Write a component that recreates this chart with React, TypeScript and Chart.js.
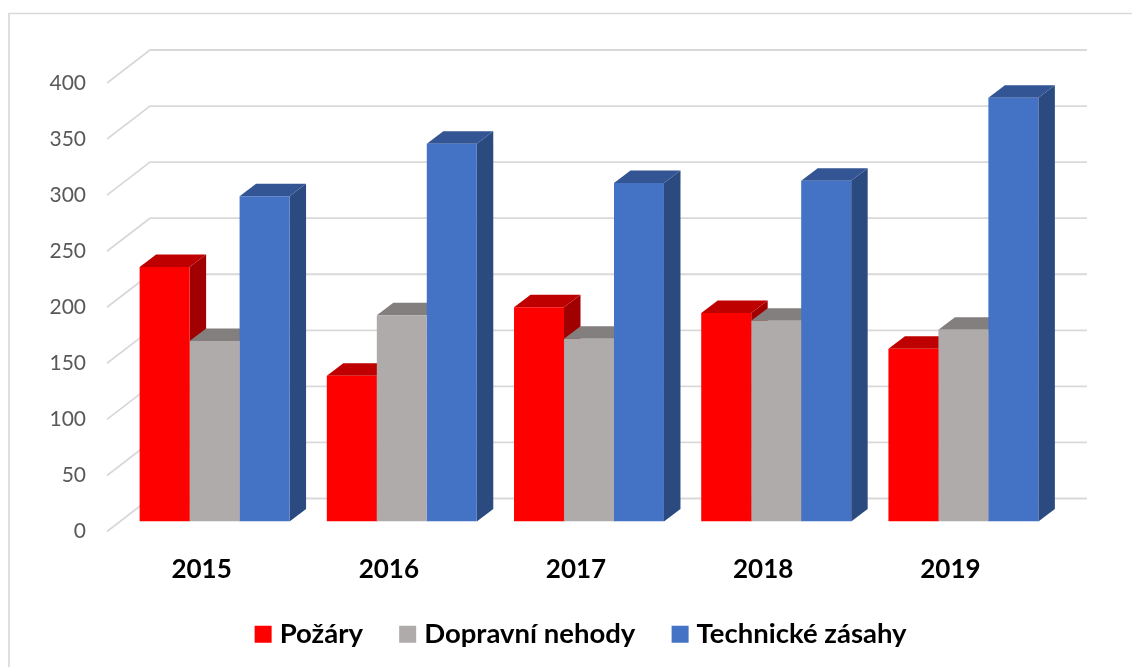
import React, { useEffect, useRef } from "react";
import { Chart, registerables } from "chart.js";

Chart.register(...registerables);

const years = ["2015", "2016", "2017", "2018", "2019"];
const pozary = [227, 130, 191, 186, 154];
const nehody = [161, 184, 163, 179, 171];
const zasahy = [290, 337, 302, 304, 378];

const seriesNames = ["Požáry", "Dopravní nehody", "Technické zásahy"];
const frontColors = ["#FF0000", "#AFABAB", "#4472C4"];
const topColors = ["#BF0000", "#837F7F", "#335593"];
const sideColors = ["#A00000", "#6E6C6C", "#2B4A80"];

const GRID = "#D9D9D9";
const FONT = "Lato";
const depthX = 16.5;
const depthY = 12.5;
const legendShift = 35;

const scene3d = {
  id: "scene3d",
  afterLayout(chart: any) {
    chart.legend.left += legendShift;
    chart.legend.right += legendShift;
  },
  beforeDatasetsDraw(chart: any) {
    const ctx = chart.ctx;
    const yScale = chart.scales.y;
    ctx.save();
    // frame
    ctx.strokeStyle = GRID;
    ctx.lineWidth = 1.7;
    ctx.beginPath();
    ctx.moveTo(9, 667);
    ctx.lineTo(9, 13.5);
    ctx.lineTo(1132, 13.5);
    ctx.stroke();
    // back wall and left wall grid
    ctx.lineWidth = 1.8;
    yScale.ticks.forEach((t: any) => {
      const y = yScale.getPixelForValue(t.value);
      ctx.beginPath();
      ctx.moveTo(107, y + 10);
      ctx.lineTo(150, y - 23);
      ctx.lineTo(1087, y - 23);
      ctx.stroke();
    });
    // bar tops and sides
    chart.data.datasets.forEach((_: any, di: number) => {
      chart.getDatasetMeta(di).data.forEach((bar: any) => {
        const left = bar.x - bar.width / 2;
        const right = bar.x + bar.width / 2;
        const top = bar.y;
        const base = bar.base;
        ctx.fillStyle = sideColors[di];
        ctx.beginPath();
        ctx.moveTo(right, top);
        ctx.lineTo(right + depthX, top - depthY);
        ctx.lineTo(right + depthX, base - depthY);
        ctx.lineTo(right, base);
        ctx.closePath();
        ctx.fill();
        ctx.fillStyle = topColors[di];
        ctx.beginPath();
        ctx.moveTo(left, top);
        ctx.lineTo(left + depthX, top - depthY);
        ctx.lineTo(right + depthX, top - depthY);
        ctx.lineTo(right, top);
        ctx.closePath();
        ctx.fill();
      });
    });
    ctx.restore();
  },
};

export default function App() {
  const ref = useRef<HTMLCanvasElement>(null);
  useEffect(() => {
    const values = [pozary, nehody, zasahy];
    const chart = new Chart(ref.current as any, {
      type: "bar",
      data: {
        labels: years,
        datasets: seriesNames.map((label, i) => ({
          label,
          data: values[i],
          backgroundColor: frontColors[i],
          borderWidth: 0,
          categoryPercentage: 0.801,
          barPercentage: 1,
        })),
      },
      plugins: [scene3d],
      options: {
        animation: false,
        responsive: false,
        devicePixelRatio: 1,
        layout: { padding: { left: 40, right: 75, top: 73, bottom: 9 } },
        plugins: {
          tooltip: { enabled: false },
          title: { display: false },
          legend: {
            display: true,
            position: "bottom",
            labels: {
              boxWidth: 5.5,
              boxHeight: 5.5,
              padding: 42,
              color: "#000000",
              font: { family: FONT, size: 27.5, weight: "bold" },
              generateLabels: (c: any) =>
                c.data.datasets.map((d: any, i: number) => ({
                  text: d.label,
                  fillStyle: frontColors[i],
                  strokeStyle: frontColors[i],
                  lineWidth: 11.5,
                  fontColor: "#000000",
                  hidden: false,
                  datasetIndex: i,
                })),
            },
          },
        },
        scales: {
          x: {
            grid: { display: false, drawTicks: false },
            border: { display: false },
            ticks: {
              color: "#000000",
              padding: 33,
              labelOffset: -13,
              maxRotation: 0,
              font: { family: FONT, size: 26, weight: "bold" },
            },
            afterFit: (s: any) => {
              s.height = 57;
            },
          },
          y: {
            min: 0,
            max: 400,
            grid: { display: false, drawTicks: false },
            border: { display: false },
            ticks: {
              stepSize: 50,
              color: "#595959",
              padding: 35,
              labelOffset: 10,
              font: { family: FONT, size: 21 },
            },
            afterFit: (s: any) => {
              s.width = 81;
            },
          },
        },
      },
    } as any);
    return () => chart.destroy();
  }, []);
  return (
    <canvas
      ref={ref}
      width={1132}
      height={667}
      style={{ position: "fixed", left: 0, top: 0, display: "block", background: "#fff" }}
    />
  );
}
